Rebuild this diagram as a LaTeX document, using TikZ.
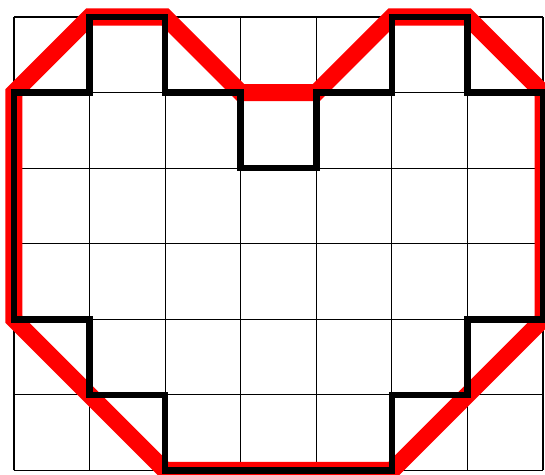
\documentclass[tikz,border=0pt]{standalone}
\begin{document}
\begin{tikzpicture}[x=1cm,y=1cm,
  gridline/.style={line width=0.4pt,black},
  redpath/.style={line width=0.225cm,red,line join=miter},
  blackpath/.style={line width=0.086cm,black,line join=miter}]
\useasboundingbox (-0.185,-0.053) rectangle (7.026,6.225);
\draw[gridline] (0,0) grid (7,6);
\draw[redpath] (0,5) -- (1,6) -- (2,6) -- (3,5) -- (4,5) -- (5,6) -- (6,6) -- (7,5)
  -- (7,2) -- (5,0) -- (2,0) -- (0,2) -- cycle;
\draw[blackpath] (0,5) -- (1,5) -- (1,6) -- (2,6) -- (2,5) -- (3,5) -- (3,4) -- (4,4)
  -- (4,5) -- (5,5) -- (5,6) -- (6,6) -- (6,5) -- (7,5) -- (7,2) -- (6,2) -- (6,1)
  -- (5,1) -- (5,0) -- (2,0) -- (2,1) -- (1,1) -- (1,2) -- (0,2) -- cycle;
\end{tikzpicture}
\end{document}
